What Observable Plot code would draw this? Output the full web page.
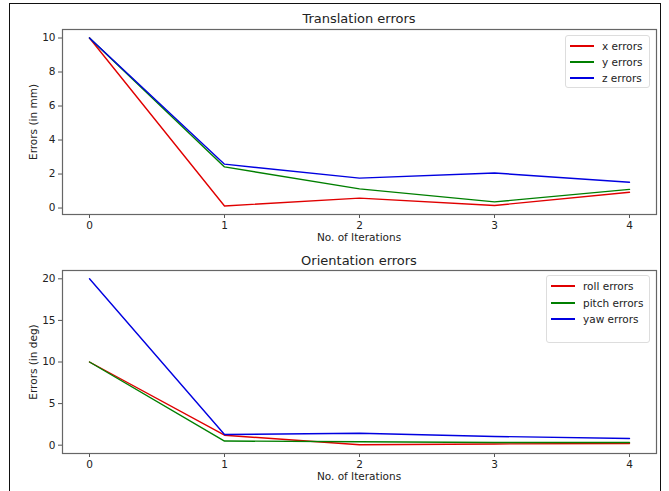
<!DOCTYPE html>
<html>
<head>
<meta charset="utf-8">
<script src="https://cdn.jsdelivr.net/npm/d3@7"></script>
<script src="https://cdn.jsdelivr.net/npm/@observablehq/plot@0.6"></script>
<style>
  html, body { margin: 0; padding: 0; background: #fff; }
  #root { position: relative; width: 669px; height: 491px; overflow: hidden; font-family: "DejaVu Sans", sans-serif; color: #222; }
  .abs { position: absolute; }
  .title { font-size: 13px; white-space: nowrap; transform: translateX(-50%); }
  .xlab { font-size: 10.5px; white-space: nowrap; transform: translateX(-50%); }
  .ylab { font-size: 10.5px; white-space: nowrap; transform: translate(-50%, -50%) rotate(-90deg); }
  .legend { border: 1px solid #ddd; border-radius: 3px; background: rgba(255,255,255,0.85); font-size: 10.5px; box-sizing: border-box; }
  .legend .row { position: absolute; height: 14px; display: flex; align-items: center; white-space: nowrap; }
  .legend .sw { height: 1.6px; flex-shrink: 0; margin-right: 8px; }
  #frame { position: absolute; left: 9px; top: 3px; width: 650px; height: 520px; border: 1.5px solid #111; }
</style>
</head>
<body>
<div id="root">
  <div id="frame"></div>
</div>
<script>
const iterations = [0, 1, 2, 3, 4];
const xErrors = [10, 0.12, 0.58, 0.15, 0.93];
const yErrors = [10, 2.42, 1.13, 0.36, 1.1];
const zErrors = [10, 2.58, 1.76, 2.06, 1.52];
const rollErrors = [10, 1.2, 0.05, 0.15, 0.2];
const pitchErrors = [10, 0.5, 0.42, 0.33, 0.33];
const yawErrors = [20, 1.28, 1.44, 1.05, 0.8];
const xTicks = [0, 1, 2, 3, 4];
const transTicks = [0, 2, 4, 6, 8, 10];
const orientTicks = [0, 5, 10, 15, 20];
const transNames = ["x errors", "y errors", "z errors"];
const orientNames = ["roll errors", "pitch errors", "yaw errors"];
const seriesColors = ["#e00000", "#007f00", "#0000e0"];

function toRows(names, arrays) {
  const rows = [];
  names.forEach((n, i) => iterations.forEach((it, j) => rows.push({series: n, it, v: arrays[i][j]})));
  return rows;
}

function makePlot(rows, names, yDomain, yTicks, height, mt, mb) {
  return Plot.plot({
    width: 669,
    height,
    marginLeft: 62,
    marginRight: 13,
    marginTop: mt,
    marginBottom: mb,
    style: {fontFamily: "DejaVu Sans, sans-serif", fontSize: "10.5px", color: "#222", background: "transparent", overflow: "visible"},
    x: {domain: [-0.2, 4.2]},
    y: {domain: yDomain},
    color: {domain: names, range: seriesColors},
    marks: [
      Plot.axisX({ticks: xTicks, tickSize: 4, tickPadding: 3, label: null, tickFormat: d3.format("d"), stroke: "#555"}),
      Plot.axisY({ticks: yTicks, tickSize: 4, tickPadding: 3, label: null, tickFormat: d3.format("d"), stroke: "#555"}),
      Plot.lineY(rows, {x: "it", y: "v", z: "series", stroke: "series", strokeWidth: 1.4}),
      Plot.frame({stroke: "#666", strokeWidth: 1.2})
    ]
  });
}

const root = document.getElementById("root");

function place(el, left, top) {
  el.classList.add("abs");
  el.style.left = left + "px";
  el.style.top = top + "px";
  root.appendChild(el);
}
function text(cls, t, left, top) {
  const d = document.createElement("div");
  d.className = cls;
  d.textContent = t;
  place(d, left, top);
  return d;
}
function legend(names, left, top, w, h, rowTops, swW) {
  const box = document.createElement("div");
  box.className = "legend";
  box.style.width = w + "px";
  box.style.height = h + "px";
  names.forEach((n, i) => {
    const r = document.createElement("div");
    r.className = "row";
    r.style.left = "4px";
    r.style.top = rowTops[i] + "px";
    const sw = document.createElement("div");
    sw.className = "sw";
    sw.style.background = seriesColors[i];
    sw.style.width = swW + "px";
    const s = document.createElement("span");
    s.textContent = n;
    r.appendChild(sw); r.appendChild(s);
    box.appendChild(r);
  });
  place(box, left, top);
}

// Top chart
const p1 = makePlot(toRows(transNames, [xErrors, yErrors, zErrors]), transNames, [-0.38, 10.5], transTicks, 245, 29, 31);
p1.style.position = "absolute"; p1.style.left = "0px"; p1.style.top = "0px";
root.appendChild(p1);
text("title", "Translation errors", 359, 11);
text("xlab", "No. of Iterations", 359, 231);
text("ylab", "Errors (in mm)", 33, 122);
legend(transNames, 565, 35, 85, 53, [3, 19, 35], 24);

// Bottom chart
const p2 = makePlot(toRows(orientNames, [rollErrors, pitchErrors, yawErrors]), orientNames, [-1, 21], orientTicks, 246, 25, 38);
p2.style.position = "absolute"; p2.style.left = "0px"; p2.style.top = "245px";
root.appendChild(p2);
text("title", "Orientation errors", 359, 253);
text("xlab", "No. of Iterations", 359, 470);
text("ylab", "Errors (in deg)", 33, 362);
legend(orientNames, 546, 275, 104, 68, [3, 20, 36], 24);
</script>
</body>
</html>
